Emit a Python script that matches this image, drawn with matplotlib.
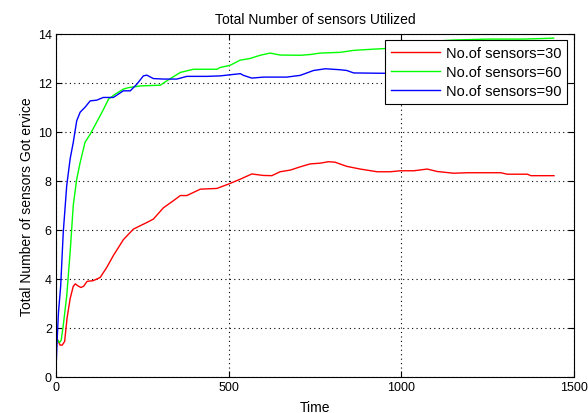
import matplotlib
matplotlib.use("Agg")
import matplotlib.pyplot as plt

plt.rcParams['font.family'] = ['Liberation Sans', 'DejaVu Sans']

title = "Total Number of sensors Utilized"
xlabel = "Time"
ylabel = "Total Number of sensors Got ervice"
labels = ["No.of sensors=30", "No.of sensors=60", "No.of sensors=90"]
colors = ["#ff0000", "#00ff00", "#0000ff"]

x30 = [0, 5, 12, 18, 25, 32, 41, 50, 56, 63, 72, 80, 90, 108, 128, 147, 166, 195, 224, 244,
       263, 282, 311, 340, 360, 379, 418, 466, 500, 534, 567, 600, 625, 649, 679, 707, 736,
       765, 789, 808, 842, 881, 930, 968, 997, 1036, 1075, 1104, 1152, 1191, 1288, 1307,
       1365, 1375, 1442]
y30 = [1.7, 1.5, 1.3, 1.3, 1.45, 2.4, 3.2, 3.7, 3.8, 3.72, 3.65, 3.7, 3.9, 3.93, 4.06, 4.47,
       4.95, 5.6, 6.03, 6.17, 6.3, 6.44, 6.9, 7.19, 7.4, 7.4, 7.66, 7.69, 7.87, 8.07, 8.28,
       8.22, 8.21, 8.37, 8.44, 8.57, 8.69, 8.72, 8.78, 8.76, 8.59, 8.48, 8.37, 8.37, 8.41,
       8.41, 8.48, 8.38, 8.31, 8.33, 8.33, 8.27, 8.27, 8.21, 8.21]

x60 = [0, 5, 10, 15, 21, 31, 41, 50, 60, 70, 84, 99, 118, 137, 152, 171, 195, 210, 244, 302,
       321, 360, 398, 466, 475, 504, 533, 562, 591, 620, 649, 707, 736, 765, 823, 862, 920,
       960, 1000, 1050, 1100, 1150, 1200, 1250, 1300, 1350, 1400, 1441]
y60 = [1.6, 1.5, 1.4, 1.5, 2.1, 3.3, 5.1, 7.0, 8.07, 8.75, 9.57, 9.9, 10.4, 10.9, 11.33, 11.53,
       11.74, 11.8, 11.87, 11.9, 12.08, 12.42, 12.55, 12.55, 12.62, 12.71, 12.92, 12.99, 13.12,
       13.21, 13.13, 13.12, 13.15, 13.21, 13.24, 13.32, 13.37, 13.4, 13.45, 13.6, 13.7, 13.74,
       13.76, 13.78, 13.78, 13.78, 13.8, 13.82]

x90 = [0, 4, 7, 13.5, 21, 31, 41, 50, 60, 70, 84, 99, 118, 137, 166, 195, 215, 234, 253, 263,
       282, 311, 350, 379, 437, 476, 514, 534, 543, 567, 601, 668, 707, 746, 780, 823, 842,
       862, 920, 1000, 1100, 1200, 1300, 1441]
y90 = [0.33, 1.7, 2.6, 3.7, 5.9, 7.8, 8.9, 9.57, 10.45, 10.8, 11.0, 11.26, 11.29, 11.4, 11.4,
       11.67, 11.67, 11.94, 12.28, 12.31, 12.17, 12.15, 12.15, 12.26, 12.26, 12.28, 12.34,
       12.37, 12.3, 12.19, 12.23, 12.23, 12.3, 12.5, 12.57, 12.53, 12.5, 12.4, 12.39, 12.38,
       12.4, 12.4, 12.4, 12.4]

xticks = [0, 500, 1000, 1500]
yticks = [0, 2, 4, 6, 8, 10, 12, 14]

fig = plt.figure(figsize=(5.88, 4.14), dpi=100)
ax = fig.add_axes([56/588, 36/414, (574-56)/588, (378-34.7)/414])

for xs, ys, lab, c in zip([x30, x60, x90], [y30, y60, y90], labels, colors):
    ax.plot(xs, ys, color=c, lw=1.0, label=lab)

ax.set_xlim(0, 1500)
ax.set_ylim(0, 14)
ax.set_xticks(xticks)
ax.set_yticks(yticks)
ax.tick_params(direction='in', top=True, right=True, labelsize=9, length=4, pad=3)
ax.grid(True, color='black', linestyle=(0, (1, 3)), linewidth=0.8)
for s in ax.spines.values():
    s.set_linewidth(0.8)

ax.set_title(title, fontsize=10, pad=8)
ax.set_xlabel(xlabel, fontsize=10, labelpad=5)
ax.set_ylabel(ylabel, fontsize=10, labelpad=3)

leg = ax.legend(loc='upper right', fontsize=10.5, frameon=True, fancybox=False,
                framealpha=1, edgecolor='black', borderaxespad=0.45,
                handlelength=3.4, handletextpad=0.4, borderpad=0.4, labelspacing=0.35)
leg.get_frame().set_linewidth(0.8)

fig.savefig("out.png", dpi=100)
